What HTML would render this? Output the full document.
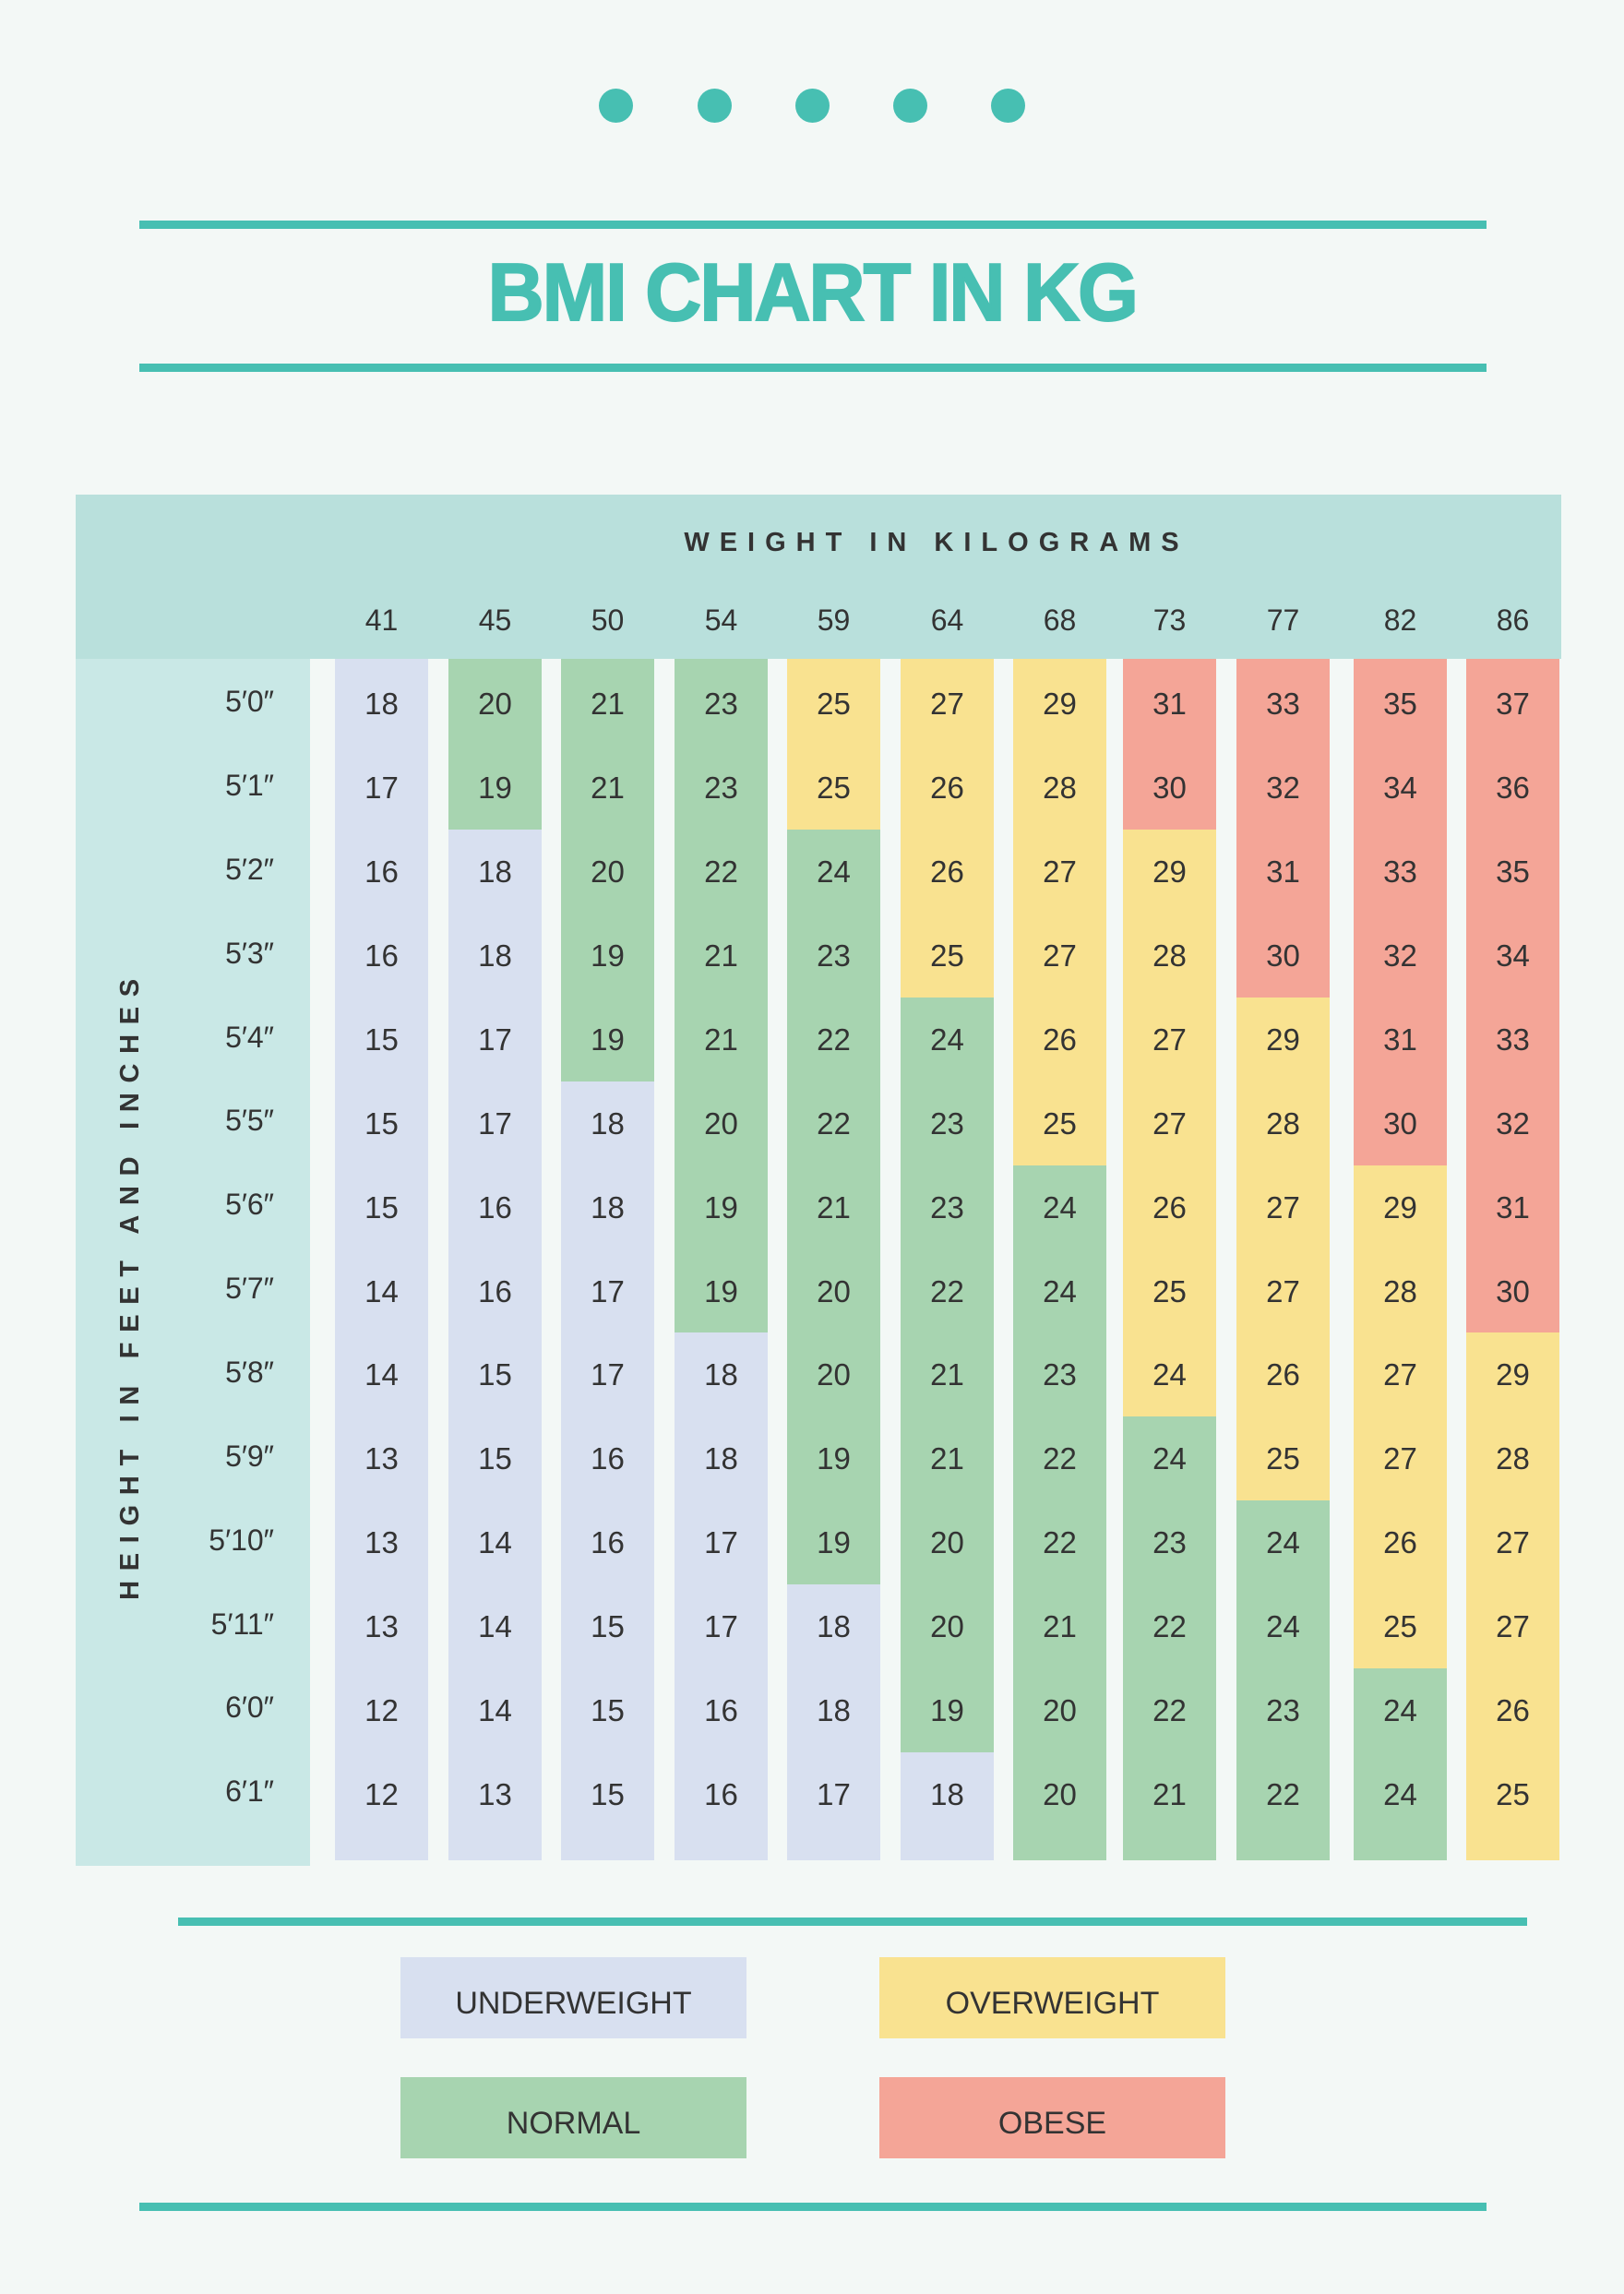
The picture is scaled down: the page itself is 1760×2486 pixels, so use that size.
<!DOCTYPE html>
<html><head><meta charset="utf-8">
<style>
*{margin:0;padding:0;box-sizing:border-box}
body{width:1760px;height:2486px;background:#f3f8f6;position:relative;overflow:hidden;font-family:"Liberation Sans",sans-serif;color:#333}
.a{position:absolute}
.dot{position:absolute;top:96px;width:37px;height:37px;border-radius:50%;background:#47bfb2}
.ln{position:absolute;background:#47bfb2;height:9px}
.t{position:absolute;left:0;width:1760px;top:262px;text-align:center;font-weight:bold;font-size:88px;line-height:110px;color:#47bfb2}
.t span{display:inline-block;transform:scaleX(0.96);-webkit-text-stroke:2px #47bfb2;letter-spacing:-2px}
.w{position:absolute;top:648px;width:101px;text-align:center;font-size:32px;line-height:48px}
.h{position:absolute;right:1463px;width:200px;text-align:right;font-size:32px}
.c{position:absolute;width:101px;height:91px;line-height:91px;text-align:center;font-size:33px}
.r0{top:714px;height:95px;line-height:98px}
.r1{top:808px}.r2{top:899px}.r3{top:990px}.r4{top:1081px}.r5{top:1172px}.r6{top:1263px}.r7{top:1354px}.r8{top:1444px}.r9{top:1535px}.r10{top:1626px}.r11{top:1717px}.r12{top:1808px}
.r13{top:1899px;height:117px;line-height:91px}
.c0{left:363px}.c1{left:486px}.c2{left:608px}.c3{left:731px}.c4{left:853px}.c5{left:976px}.c6{left:1098px}.c7{left:1217px}.c8{left:1340px}.c9{left:1467px}.c10{left:1589px}
.u{background:#d8e0f0}.n{background:#a7d4b0}.o{background:#f9e290}.b{background:#f4a597}
.lg{position:absolute;width:375px;height:88px;line-height:100px;text-align:center;font-size:34px;color:#333}
</style></head><body>
<div class="dot" style="left:649px"></div>
<div class="dot" style="left:756px"></div>
<div class="dot" style="left:862px"></div>
<div class="dot" style="left:968px"></div>
<div class="dot" style="left:1074px"></div>
<div class="ln" style="left:151px;width:1460px;top:239px"></div>
<div class="t"><span>BMI CHART IN KG</span></div>
<div class="ln" style="left:151px;width:1460px;top:394px"></div>

<div class="a" style="left:82px;top:536px;width:1610px;height:178px;background:#b9e0dc"></div>
<div class="a" style="left:82px;top:714px;width:254px;height:1308px;background:#c9e8e6"></div>
<div class="a" style="left:0;width:2030px;top:570px;text-align:center;font-weight:bold;font-size:29px;letter-spacing:11px;line-height:36px;color:#333">WEIGHT IN KILOGRAMS</div>
<div class="a" style="left:141px;top:1397px;width:0;height:0"><div style="position:absolute;left:-400px;top:-18px;width:800px;text-align:center;transform:rotate(-90deg);font-weight:bold;font-size:29px;letter-spacing:10.7px;line-height:36px;color:#333;padding-left:10px">HEIGHT IN FEET AND INCHES</div></div>

<div class="w c0">41</div><div class="w c1">45</div><div class="w c2">50</div><div class="w c3">54</div><div class="w c4">59</div><div class="w c5">64</div><div class="w c6">68</div><div class="w c7">73</div><div class="w c8">77</div><div class="w c9">82</div><div class="w c10">86</div>

<div class="h" style="top:742px">5′0″</div>
<div class="h" style="top:833px">5′1″</div>
<div class="h" style="top:924px">5′2″</div>
<div class="h" style="top:1015px">5′3″</div>
<div class="h" style="top:1106px">5′4″</div>
<div class="h" style="top:1196px">5′5″</div>
<div class="h" style="top:1287px">5′6″</div>
<div class="h" style="top:1378px">5′7″</div>
<div class="h" style="top:1469px">5′8″</div>
<div class="h" style="top:1560px">5′9″</div>
<div class="h" style="top:1651px">5′10″</div>
<div class="h" style="top:1742px">5′11″</div>
<div class="h" style="top:1832px">6′0″</div>
<div class="h" style="top:1923px">6′1″</div>

<div class="c c0 r0 u">18</div><div class="c c0 r1 u">17</div><div class="c c0 r2 u">16</div><div class="c c0 r3 u">16</div><div class="c c0 r4 u">15</div><div class="c c0 r5 u">15</div><div class="c c0 r6 u">15</div><div class="c c0 r7 u">14</div><div class="c c0 r8 u">14</div><div class="c c0 r9 u">13</div><div class="c c0 r10 u">13</div><div class="c c0 r11 u">13</div><div class="c c0 r12 u">12</div><div class="c c0 r13 u">12</div>
<div class="c c1 r0 n">20</div><div class="c c1 r1 n">19</div><div class="c c1 r2 u">18</div><div class="c c1 r3 u">18</div><div class="c c1 r4 u">17</div><div class="c c1 r5 u">17</div><div class="c c1 r6 u">16</div><div class="c c1 r7 u">16</div><div class="c c1 r8 u">15</div><div class="c c1 r9 u">15</div><div class="c c1 r10 u">14</div><div class="c c1 r11 u">14</div><div class="c c1 r12 u">14</div><div class="c c1 r13 u">13</div>
<div class="c c2 r0 n">21</div><div class="c c2 r1 n">21</div><div class="c c2 r2 n">20</div><div class="c c2 r3 n">19</div><div class="c c2 r4 n">19</div><div class="c c2 r5 u">18</div><div class="c c2 r6 u">18</div><div class="c c2 r7 u">17</div><div class="c c2 r8 u">17</div><div class="c c2 r9 u">16</div><div class="c c2 r10 u">16</div><div class="c c2 r11 u">15</div><div class="c c2 r12 u">15</div><div class="c c2 r13 u">15</div>
<div class="c c3 r0 n">23</div><div class="c c3 r1 n">23</div><div class="c c3 r2 n">22</div><div class="c c3 r3 n">21</div><div class="c c3 r4 n">21</div><div class="c c3 r5 n">20</div><div class="c c3 r6 n">19</div><div class="c c3 r7 n">19</div><div class="c c3 r8 u">18</div><div class="c c3 r9 u">18</div><div class="c c3 r10 u">17</div><div class="c c3 r11 u">17</div><div class="c c3 r12 u">16</div><div class="c c3 r13 u">16</div>
<div class="c c4 r0 o">25</div><div class="c c4 r1 o">25</div><div class="c c4 r2 n">24</div><div class="c c4 r3 n">23</div><div class="c c4 r4 n">22</div><div class="c c4 r5 n">22</div><div class="c c4 r6 n">21</div><div class="c c4 r7 n">20</div><div class="c c4 r8 n">20</div><div class="c c4 r9 n">19</div><div class="c c4 r10 n">19</div><div class="c c4 r11 u">18</div><div class="c c4 r12 u">18</div><div class="c c4 r13 u">17</div>
<div class="c c5 r0 o">27</div><div class="c c5 r1 o">26</div><div class="c c5 r2 o">26</div><div class="c c5 r3 o">25</div><div class="c c5 r4 n">24</div><div class="c c5 r5 n">23</div><div class="c c5 r6 n">23</div><div class="c c5 r7 n">22</div><div class="c c5 r8 n">21</div><div class="c c5 r9 n">21</div><div class="c c5 r10 n">20</div><div class="c c5 r11 n">20</div><div class="c c5 r12 n">19</div><div class="c c5 r13 u">18</div>
<div class="c c6 r0 o">29</div><div class="c c6 r1 o">28</div><div class="c c6 r2 o">27</div><div class="c c6 r3 o">27</div><div class="c c6 r4 o">26</div><div class="c c6 r5 o">25</div><div class="c c6 r6 n">24</div><div class="c c6 r7 n">24</div><div class="c c6 r8 n">23</div><div class="c c6 r9 n">22</div><div class="c c6 r10 n">22</div><div class="c c6 r11 n">21</div><div class="c c6 r12 n">20</div><div class="c c6 r13 n">20</div>
<div class="c c7 r0 b">31</div><div class="c c7 r1 b">30</div><div class="c c7 r2 o">29</div><div class="c c7 r3 o">28</div><div class="c c7 r4 o">27</div><div class="c c7 r5 o">27</div><div class="c c7 r6 o">26</div><div class="c c7 r7 o">25</div><div class="c c7 r8 o">24</div><div class="c c7 r9 n">24</div><div class="c c7 r10 n">23</div><div class="c c7 r11 n">22</div><div class="c c7 r12 n">22</div><div class="c c7 r13 n">21</div>
<div class="c c8 r0 b">33</div><div class="c c8 r1 b">32</div><div class="c c8 r2 b">31</div><div class="c c8 r3 b">30</div><div class="c c8 r4 o">29</div><div class="c c8 r5 o">28</div><div class="c c8 r6 o">27</div><div class="c c8 r7 o">27</div><div class="c c8 r8 o">26</div><div class="c c8 r9 o">25</div><div class="c c8 r10 n">24</div><div class="c c8 r11 n">24</div><div class="c c8 r12 n">23</div><div class="c c8 r13 n">22</div>
<div class="c c9 r0 b">35</div><div class="c c9 r1 b">34</div><div class="c c9 r2 b">33</div><div class="c c9 r3 b">32</div><div class="c c9 r4 b">31</div><div class="c c9 r5 b">30</div><div class="c c9 r6 o">29</div><div class="c c9 r7 o">28</div><div class="c c9 r8 o">27</div><div class="c c9 r9 o">27</div><div class="c c9 r10 o">26</div><div class="c c9 r11 o">25</div><div class="c c9 r12 n">24</div><div class="c c9 r13 n">24</div>
<div class="c c10 r0 b">37</div><div class="c c10 r1 b">36</div><div class="c c10 r2 b">35</div><div class="c c10 r3 b">34</div><div class="c c10 r4 b">33</div><div class="c c10 r5 b">32</div><div class="c c10 r6 b">31</div><div class="c c10 r7 b">30</div><div class="c c10 r8 o">29</div><div class="c c10 r9 o">28</div><div class="c c10 r10 o">27</div><div class="c c10 r11 o">27</div><div class="c c10 r12 o">26</div><div class="c c10 r13 o">25</div>

<div class="ln" style="left:193px;width:1462px;top:2078px"></div>
<div class="lg u" style="left:434px;top:2121px">UNDERWEIGHT</div>
<div class="lg o" style="left:953px;top:2121px">OVERWEIGHT</div>
<div class="lg n" style="left:434px;top:2251px">NORMAL</div>
<div class="lg b" style="left:953px;top:2251px">OBESE</div>
<div class="ln" style="left:151px;width:1460px;top:2387px"></div>
</body></html>
